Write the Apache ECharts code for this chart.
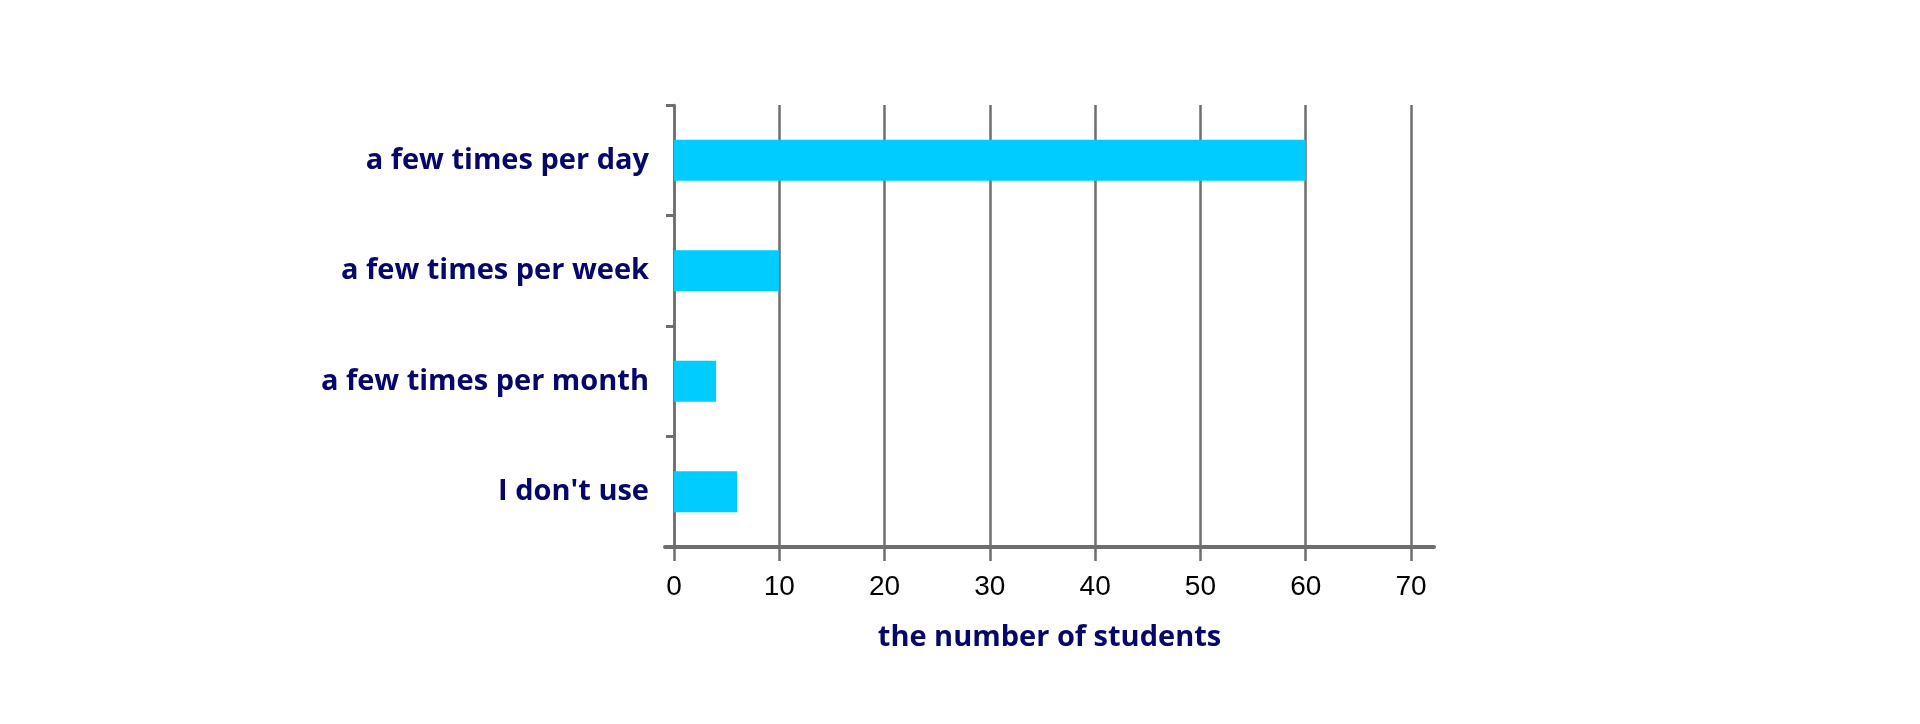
<!DOCTYPE html>
<html>
<head>
<meta charset="utf-8">
<script src="https://cdn.jsdelivr.net/npm/echarts@6/dist/echarts.min.js"></script>
<style>
html,body{margin:0;padding:0;background:#fff;}
#chart{width:1920px;height:724px;}
</style>
</head>
<body>
<div id="chart"></div>
<script>
const categories = ["a few times per day", "a few times per week", "a few times per month", "I don't use"];
const students = [60, 10, 4, 6];
const xTicks = [0, 10, 20, 30, 40, 50, 60, 70];
const axisTitle = "the number of students";

const gray = '#6e6e6e';
const navy = '#07076b';

const chart = echarts.init(document.getElementById('chart'));
chart.setOption({
  animation: false,
  backgroundColor: '#ffffff',
  grid: [
    { left: 674, right: 509, top: 105, bottom: 177, containLabel: false },
    { left: 665, right: 486, top: 105, bottom: 177, containLabel: false }
  ],
  xAxis: [
    {
      type: 'value', gridIndex: 0,
      min: xTicks[0], max: xTicks[xTicks.length - 1], interval: xTicks[1] - xTicks[0],
      axisLine: { show: false },
      axisTick: { show: true, length: 14, lineStyle: { color: gray, width: 2.5 } },
      splitLine: { show: true, lineStyle: { color: gray, width: 2.5 } },
      axisLabel: { color: '#000', fontFamily: 'Liberation Sans, Arial', fontSize: 28, margin: 26 }
    },
    {
      type: 'value', gridIndex: 1, min: 0, max: 1,
      axisLine: { show: true, lineStyle: { color: gray, width: 4 } },
      axisTick: { show: false }, splitLine: { show: false }, axisLabel: { show: false },
      name: axisTitle, nameLocation: 'middle', nameGap: 76,
      nameTextStyle: { color: navy, fontFamily: 'Open Sans', fontWeight: 'bold', fontSize: 29 }
    }
  ],
  yAxis: [
    {
      type: 'category', gridIndex: 0, data: categories, inverse: true,
      axisLine: { show: true, lineStyle: { color: gray, width: 2.5 } },
      axisTick: { show: true, length: 8, lineStyle: { color: gray, width: 3 } },
      splitLine: { show: false },
      axisLabel: { color: navy, fontFamily: 'Open Sans', fontWeight: 'bold', fontSize: 29, margin: 25 }
    },
    {
      type: 'value', gridIndex: 1, show: false
    }
  ],
  series: [
    {
      type: 'bar', xAxisIndex: 0, yAxisIndex: 0,
      data: students, barWidth: '37%',
      itemStyle: { color: '#00ccff' }
    }
  ]
});
</script>
</body>
</html>
